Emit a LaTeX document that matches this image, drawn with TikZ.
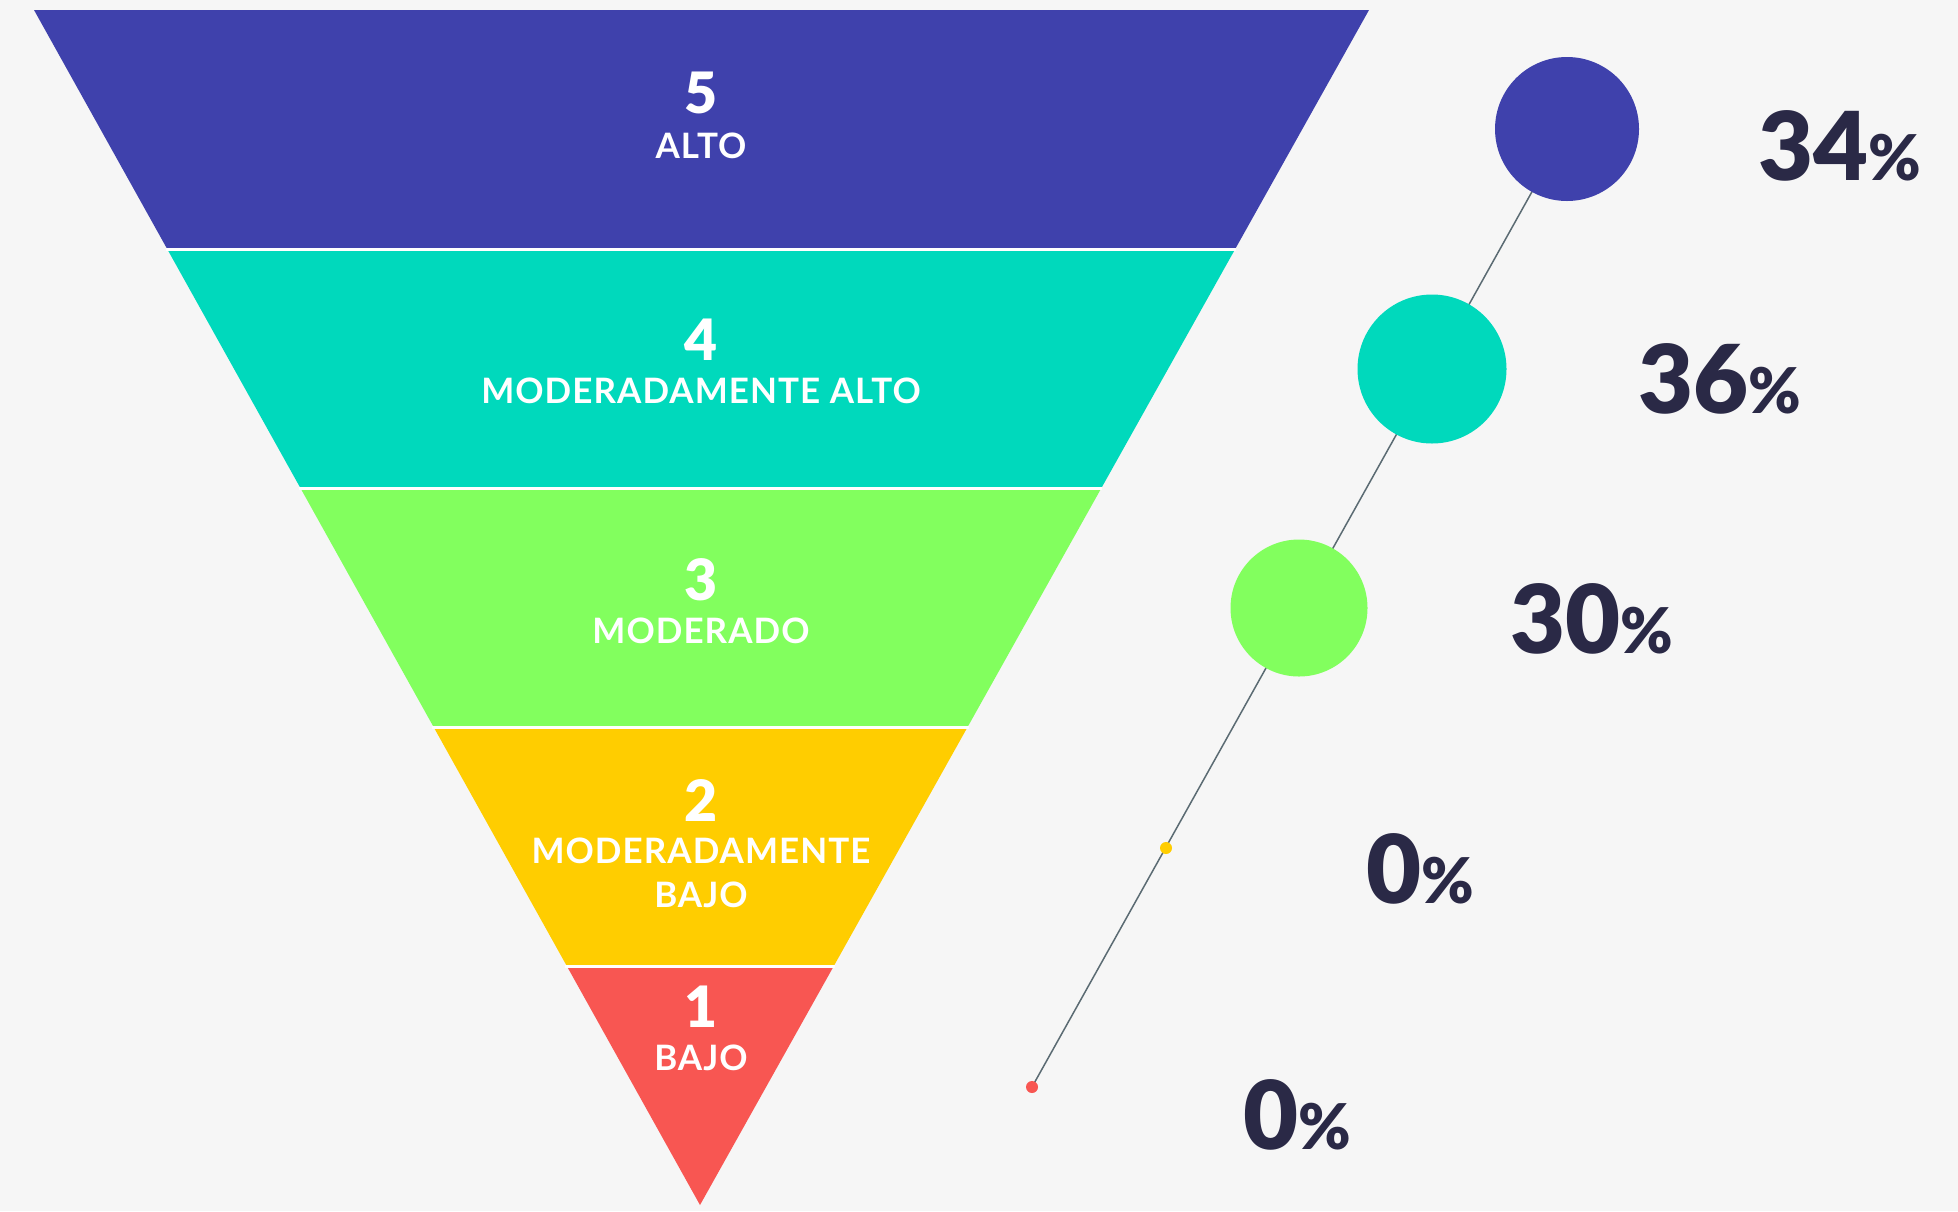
\documentclass[tikz,border=0pt]{standalone}
\usepackage{fontspec}
\setmainfont{Lato}
\newfontfamily\heavy{Lato Black}
\newfontfamily\labfont{Lato Bold}[LetterSpace=3]
\definecolor{bgc}{HTML}{F6F6F6}
\definecolor{cfive}{HTML}{3F41AC}
\definecolor{cfour}{HTML}{00D9BC}
\definecolor{cthree}{HTML}{82FF5E}
\definecolor{ctwo}{HTML}{FFCD00}
\definecolor{cone}{HTML}{F85652}
\definecolor{txtdark}{HTML}{2A2946}
\definecolor{linec}{HTML}{5B6B73}
\pgfdeclarelayer{bottom}
\pgfdeclarelayer{back}
\pgfsetlayers{bottom,back,main}
\newcommand{\pctsym}{{\fontsize{63}{63}\selectfont\%}}
\tikzset{
  num/.style={text=white, font=\heavy\fontsize{57}{57}\selectfont, inner sep=0pt, anchor=base},
  lab/.style={text=white, font=\labfont\fontsize{35}{35}\selectfont, inner sep=0pt, anchor=base},
  pct/.style={text=txtdark, font=\heavy\fontsize{95}{95}\selectfont, inner sep=0pt, anchor=base west},
  bubble/.style={circle, inner sep=0pt, minimum size=#1},
  sep/.style={white, line width=3pt},
  conn/.style={linec, line width=1.5pt}
}
\begin{document}
\begin{tikzpicture}[x=1pt,y=-1pt]
\begin{pgfonlayer}{bottom}
\fill[bgc] (0,0) rectangle (1958,1211);
\end{pgfonlayer}
\useasboundingbox (0,0) rectangle (1958,1211);
% funnel bands
\fill[cfive] (34,10) -- (1369,10) -- (1235.2,249) -- (167.2,249) -- cycle;
\fill[cfour] (167.2,249) -- (1235.2,249) -- (1101.4,488) -- (300.4,488) -- cycle;
\fill[cthree] (300.4,488) -- (1101.4,488) -- (967.6,727) -- (433.6,727) -- cycle;
\fill[ctwo] (433.6,727) -- (967.6,727) -- (833.8,966) -- (566.8,966) -- cycle;
\fill[cone] (566.8,966) -- (833.8,966) -- (700,1205) -- cycle;
\draw[sep] (166,249) -- (1236,249);
\draw[sep] (299,488) -- (1102,488);
\draw[sep] (432,727) -- (969,727);
\draw[sep] (565,966) -- (835,966);
% band labels
\node[num] (n5) at (701,113) {5};
\node[lab] (l5) at (701,158) {ALTO};
\node[num] (n4) at (701,360) {4};
\node[lab] (l4) at (701,403) {MODERADAMENTE ALTO};
\node[num] (n3) at (701,600) {3};
\node[lab] (l3) at (701,643) {MODERADO};
\node[num] (n2) at (701,821) {2};
\node[lab] (l2a) at (701,863) {MODERADAMENTE};
\node[lab] (l2b) at (701,907) {BAJO};
\node[num] (n1) at (701,1027) {1};
\node[lab] (l1) at (701,1070) {BAJO};
% bubbles
\node[bubble=144pt, fill=cfive] (c5) at (1567,129) {};
\node[bubble=149pt, fill=cfour] (c4) at (1432,369) {};
\node[bubble=137pt, fill=cthree] (c3) at (1299,608) {};
\node[bubble=12pt, fill=ctwo] (c2) at (1166,848) {};
\node[bubble=12pt, fill=cone] (c1) at (1032,1087) {};
\begin{pgfonlayer}{back}
\draw[conn] (c1.center) -- (c5.center);
\end{pgfonlayer}
% percentages
\node[pct] (p5) at (1758,180) {34\pctsym};
\node[pct] (p4) at (1638,413) {36\pctsym};
\node[pct] (p3) at (1510,653) {30\pctsym};
\node[pct] (p2) at (1366,903) {0\pctsym};
\node[pct] (p1) at (1243,1149) {0\pctsym};
\end{tikzpicture}
\end{document}
